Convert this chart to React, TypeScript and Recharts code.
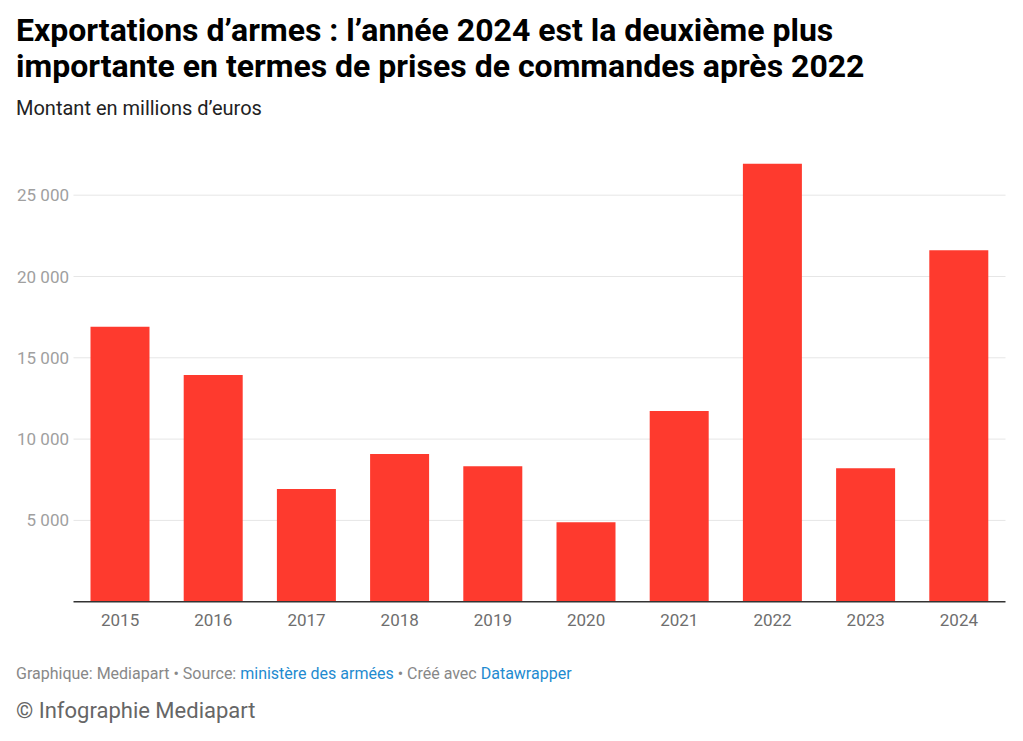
import React from 'react';
import { BarChart, Bar, XAxis, YAxis, CartesianGrid } from 'recharts';

// Montant des prises de commandes, en millions d'euros
const years = ['2015', '2016', '2017', '2018', '2019', '2020', '2021', '2022', '2023', '2024'];
const montants = [16910, 13940, 6930, 9080, 8330, 4880, 11730, 26940, 8200, 21610];
const yTicks = [5000, 10000, 15000, 20000, 25000];

const data = years.map((year, i) => ({ year, montant: montants[i] }));

const FONT = 'Roboto, "Noto Sans", sans-serif';

const fmt = (v: number) => String(v).replace(/\B(?=(\d{3})+(?!\d))/g, ' ');

export default function App() {
  return (
    <div
      style={{
        position: 'absolute',
        left: 0,
        top: 0,
        width: 1023,
        height: 741,
        background: '#fff',
        fontFamily: FONT,
        overflow: 'hidden',
      }}
    >
      <div
        style={{
          position: 'absolute',
          left: 16,
          top: 12,
          fontSize: 32,
          fontWeight: 700,
          lineHeight: '36px',
          color: '#000',
          whiteSpace: 'nowrap',
        }}
      >
        Exportations d’armes : l’année 2024 est la deuxième plus
        <br />
        importante en termes de prises de commandes après 2022
      </div>
      <div
        style={{
          position: 'absolute',
          left: 16,
          top: 96,
          fontSize: 20,
          color: '#222',
          whiteSpace: 'nowrap',
        }}
      >
        Montant en millions d’euros
      </div>

      <div style={{ position: 'absolute', left: 0, top: 0 }}>
        <BarChart
          width={1023}
          height={650}
          data={data}
          margin={{ top: 113.9, right: 17.5, bottom: 18.3, left: 0 }}
        >
          <CartesianGrid vertical={false} horizontalValues={yTicks} stroke="#e6e6e6" strokeWidth={1} />
          <XAxis
            dataKey="year"
            height={30}
            axisLine={{ stroke: '#333', strokeWidth: 1.5 }}
            tickLine={false}
            tickSize={0}
            tickMargin={12}
            tick={{ fill: '#6e6e6e', fontSize: 17, fontFamily: FONT }}
          />
          <YAxis
            width={73.5}
            domain={[0, 30000]}
            ticks={yTicks}
            axisLine={false}
            tickLine={false}
            tickSize={0}
            tickMargin={4.5}
            tickFormatter={fmt}
            tick={{ fill: '#a0a0a0', fontSize: 17, fontFamily: FONT }}
          />
          <Bar dataKey="montant" fill="#fe3a2e" barSize={59} isAnimationActive={false} />
        </BarChart>
      </div>

      <div
        style={{
          position: 'absolute',
          left: 16,
          top: 664,
          fontSize: 16,
          color: '#888',
          whiteSpace: 'nowrap',
        }}
      >
        Graphique: Mediapart • Source: <span style={{ color: '#1f8bd0' }}>ministère des armées</span> • Créé avec{' '}
        <span style={{ color: '#1f8bd0' }}>Datawrapper</span>
      </div>
      <div
        style={{
          position: 'absolute',
          left: 16,
          top: 698,
          fontSize: 22,
          color: '#666',
          whiteSpace: 'nowrap',
        }}
      >
        © Infographie Mediapart
      </div>
    </div>
  );
}
